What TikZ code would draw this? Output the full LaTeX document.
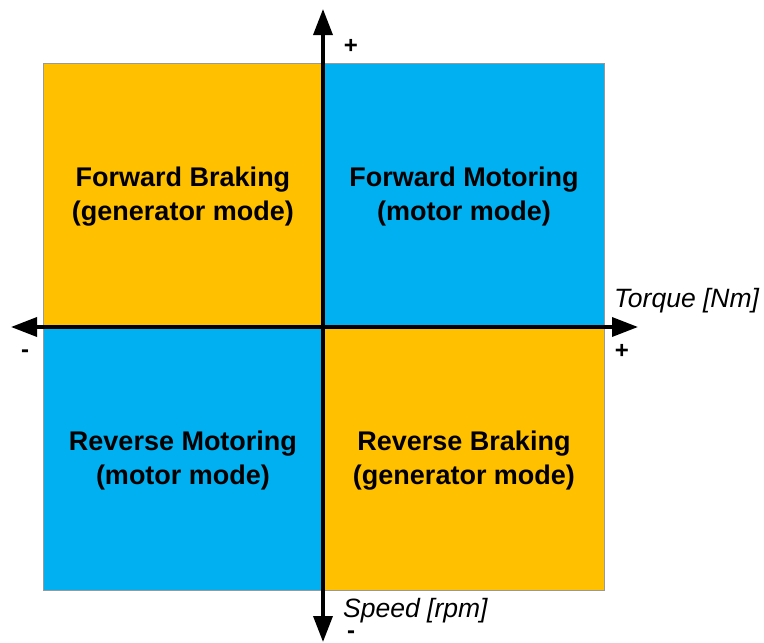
\documentclass[tikz,border=0pt]{standalone}
\usepackage{fontspec}
\setmainfont{Liberation Sans}
\usetikzlibrary{arrows.meta}
\definecolor{qorange}{HTML}{FFC000}
\definecolor{qblue}{HTML}{00B0F0}
\tikzset{
  quadbox/.style={draw=gray!80, line width=0.8pt},
  qtext/.style={font=\fontsize{27}{34}\selectfont\bfseries, align=center, text=black},
  axis/.style={line width=3.5pt, {Triangle[length=26pt,width=19pt]}-{Triangle[length=26pt,width=19pt]}},
  axlabel/.style={font=\fontsize{26.5}{30}\selectfont\itshape},
  sign/.style={font=\fontsize{24}{26}\selectfont\bfseries, inner sep=0pt},
  minus/.style={sign, text height=9pt, text depth=-6pt}
}
\begin{document}
\begin{tikzpicture}[x=1pt,y=-1pt]
\useasboundingbox (0,0) rectangle (764,643);
% quadrants
\path[quadbox, fill=qorange] (43,63) rectangle (323,327);
\path[quadbox, fill=qblue] (323,63) rectangle (604,327);
\path[quadbox, fill=qblue] (43,327) rectangle (323,590);
\path[quadbox, fill=qorange] (323,327) rectangle (604,590);
\node[qtext] (fb) at (183,197) {Forward Braking\\(generator mode)};
\node[qtext] (fm) at (464,197) {Forward Motoring\\(motor mode)};
\node[qtext] (rm) at (183,461) {Reverse Motoring\\(motor mode)};
\node[qtext] (rb) at (464,461) {Reverse Braking\\(generator mode)};
% axes
\coordinate (top) at (323,9);
\coordinate (bot) at (323,642);
\coordinate (lft) at (11,327);
\coordinate (rgt) at (638,327);
\draw[axis] (lft) -- (rgt);
\draw[axis] (bot) -- (top);
% labels
\node[axlabel, anchor=west, inner sep=0pt] (tq) at (614,301) {Torque [Nm]};
\node[axlabel, anchor=west, inner sep=0pt] (sp) at (343,611) {Speed [rpm]};
\node[sign] (ptop) at (351,46) {+};
\node[sign] (prgt) at (622,351) {+};
\node[minus] (mlft) at (25,353) {-};
\node[minus] (mbot) at (351,634) {-};
\end{tikzpicture}
\end{document}
